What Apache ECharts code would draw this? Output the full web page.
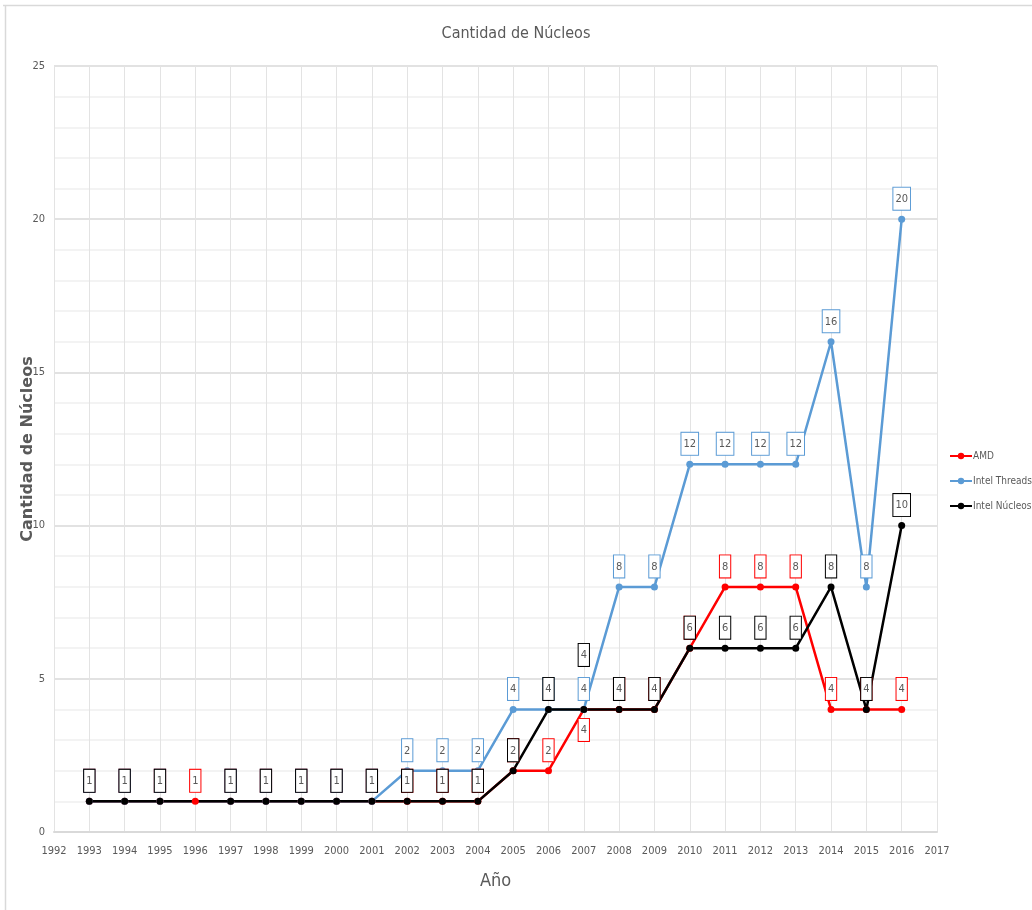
<!DOCTYPE html>
<html>
<head>
<meta charset="utf-8">
<script src="https://cdn.jsdelivr.net/npm/echarts@6/dist/echarts.min.js"></script>
<style>
  html, body { margin: 0; padding: 0; background: #fff; }
  #nucleos { width: 1032px; height: 910px; }
</style>
</head>
<body>
<div id="nucleos"></div>
<script>
var years = [1993, 1994, 1995, 1996, 1997, 1998, 1999, 2000, 2001, 2002, 2003, 2004,
             2005, 2006, 2007, 2008, 2009, 2010, 2011, 2012, 2013, 2014, 2015, 2016];
var amd = [1, 1, 1, 1, 1, 1, 1, 1, 1, 1, 1, 1, 2, 2, 4, 4, 4, 6, 8, 8, 8, 4, 4, 4];
var intelThreads = [1, 1, 1, null, 1, 1, 1, 1, 1, 2, 2, 2, 4, 4, 4, 8, 8, 12, 12, 12, 12, 16, 8, 20];
var intelNucleos = [1, 1, 1, null, 1, 1, 1, 1, 1, 1, 1, 1, 2, 4, 4, 4, 4, 6, 6, 6, 6, 8, 4, 10];

var FONT = "'DejaVu Sans Condensed', 'Liberation Sans Narrow', 'Liberation Sans', sans-serif";
var GREY = '#595959';

// pair values with years; optional per-point label tweaks (Excel moved a few labels)
function pairs(vals, tweaks) {
  return years.map(function (y, i) {
    var item = { value: [y, vals[i]] };
    if (tweaks && tweaks[y]) item.label = tweaks[y];
    return item;
  });
}

function labelStyle(color) {
  return {
    show: true,
    position: 'top',
    distance: 6,
    fontFamily: FONT,
    fontSize: 11,
    color: GREY,
    backgroundColor: '#fff',
    borderColor: color,
    borderWidth: 1,
    padding: [6, 2, 5, 2],
    formatter: function (p) { return p.value[1]; }
  };
}

function lineSeries(name, color, vals, tweaks, width) {
  return {
    name: name,
    type: 'line',
    data: pairs(vals, tweaks),
    connectNulls: true,
    symbol: 'circle',
    symbolSize: 7,
    color: color,
    lineStyle: { color: color, width: width },
    itemStyle: { color: color },
    label: labelStyle(color)
  };
}

var chart = echarts.init(document.getElementById('nucleos'));
chart.setOption({
  animation: false,
  backgroundColor: '#fff',
  title: {
    text: 'Cantidad de Núcleos',
    left: 'center',
    top: 21,
    textStyle: { fontFamily: FONT, fontSize: 16, fontWeight: 'normal', color: GREY }
  },
  legend: {
    orient: 'vertical',
    left: 944,
    top: 446,
    itemWidth: 22,
    itemHeight: 8,
    itemGap: 15,
    textStyle: { fontFamily: FONT, fontSize: 10, color: GREY, padding: [0, 0, 0, -4] },
    data: ['AMD', 'Intel Threads', 'Intel Núcleos']
  },
  grid: { left: 54, right: 95, top: 66, bottom: 78 },
  xAxis: {
    type: 'value',
    min: 1992,
    max: 2017,
    interval: 1,
    name: 'Año',
    nameLocation: 'middle',
    nameGap: 40,
    nameTextStyle: { fontFamily: FONT, fontSize: 18, color: GREY },
    axisLine: { lineStyle: { color: '#d9d9d9', width: 2 } },
    axisTick: { show: false },
    axisLabel: { fontFamily: FONT, fontSize: 11, color: GREY, margin: 14, formatter: function (v) { return String(v); } },
    splitLine: { show: true, lineStyle: { color: '#e3e3e3' } }
  },
  yAxis: {
    type: 'value',
    min: 0,
    max: 25,
    interval: 5,
    name: 'Cantidad de Núcleos',
    nameLocation: 'middle',
    nameGap: 18,
    nameMoveOverlap: false,
    nameTextStyle: { fontFamily: 'DejaVu Sans', fontSize: 16, fontWeight: 'bold', color: GREY },
    axisLine: { show: false },
    axisTick: { show: false },
    axisLabel: { fontFamily: FONT, fontSize: 11, color: GREY, margin: 9 },
    splitLine: { lineStyle: { color: '#d9d9d9', width: 1.5 } },
    minorTick: { show: false, splitNumber: 5 },
    minorSplitLine: { show: true, lineStyle: { color: '#f0f0f0', width: 1.5 } }
  },
  graphic: [
    { type: 'line', shape: { x1: 3, y1: 5.5, x2: 1032, y2: 5.5 }, style: { stroke: '#d9d9d9', lineWidth: 1.5 } },
    { type: 'line', shape: { x1: 5.5, y1: 5, x2: 5.5, y2: 910 }, style: { stroke: '#d9d9d9', lineWidth: 1.5 } }
  ],
  series: [
    lineSeries('AMD', '#ff0000', amd, { 2007: { position: 'bottom' } }, 2.5),
    lineSeries('Intel Threads', '#5b9bd5', intelThreads, null, 2.5),
    lineSeries('Intel Núcleos', '#000000', intelNucleos, { 2007: { distance: 40 } }, 2.5)
  ]
});
</script>
</body>
</html>
